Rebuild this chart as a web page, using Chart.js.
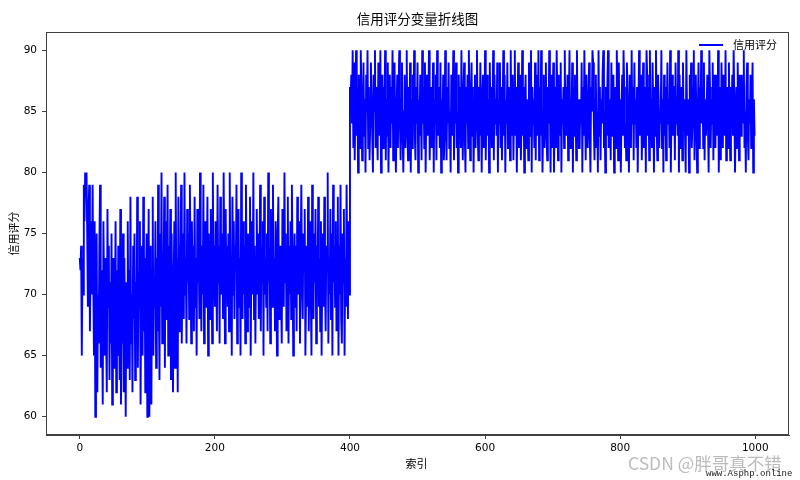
<!DOCTYPE html>
<html>
<head>
<meta charset="utf-8">
<script src="https://cdn.jsdelivr.net/npm/chart.js@4/dist/chart.umd.min.js"></script>
<style>
  html, body { margin: 0; padding: 0; background: #ffffff; }
  #c { display: block; }
</style>
</head>
<body>
<canvas id="c" width="800" height="480"></canvas>
<script>
// ---- data ----
const titleText = "信用评分变量折线图";
const xAxisLabel = "索引";
const yAxisLabel = "信用评分";
const seriesName = "信用评分";
const xTicks = [0, 200, 400, 600, 800, 1000];
const yTicks = [60, 65, 70, 75, 80, 85, 90];

const scoresLow = [
  73,72,74,65,73,70,79,76,80,78,80,75,69,77,79,67,72,76,70,79,
  71,65,76,60,68,75,62,70,66,74,79,64,72,68,61,76,70,65,73,67,
  62,77,69,74,63,71,66,75,61,70,73,64,68,76,62,72,65,74,69,63,
  77,61,70,66,75,62,73,68,60,71,64,76,67,72,63,78,66,70,62,74,
  68,75,63,71,66,78,64,72,69,76,61,70,74,65,78,67,73,62,71,75,
  60,68,77,60,66,74,61,72,78,65,71,69,76,64,73,67,79,70,63,75,
  69,80,66,73,71,78,64,76,68,72,79,65,74,70,77,63,75,68,62,71,
  76,64,80,69,73,62,78,67,74,71,79,66,72,75,68,80,70,73,66,77,
  71,75,68,79,72,66,76,70,74,67,78,69,73,65,77,71,75,68,80,72,
  67,74,70,79,66,73,76,69,72,78,65,75,71,68,77,73,66,80,70,74,
  69,76,72,67,79,71,74,66,78,70,73,75,68,80,72,66,77,70,74,69,
  75,67,80,71,73,65,78,70,76,68,74,72,79,66,71,77,69,73,65,80,
  72,68,76,70,74,66,79,71,67,75,73,69,78,65,72,76,70,80,68,74,
  66,73,77,70,75,68,72,79,67,74,71,76,65,78,70,73,69,75,67,80,
  71,74,66,77,72,69,79,70,73,67,76,71,65,75,78,68,72,74,70,66,
  77,73,69,80,71,75,67,72,78,66,74,70,76,68,79,73,65,71,75,69,
  74,67,78,72,70,76,66,73,79,71,68,75,72,77,65,70,74,69,78,67,
  72,76,70,65,79,73,68,75,71,77,66,74,70,78,69,73,67,76,65,72,
  75,69,78,71,67,74,72,80,66,73,70,77,68,75,65,79,71,74,69,76,
  67,72,78,65,74,70,79,68,66,75,71,77,65,73,69,79,72,68,76,70
];

const scoresHigh = [
  87,86,88,84,90,82,89,81,85,90,83,87,80,88,85,82,90,86,81,84,
  89,83,86,80,88,85,90,82,87,81,84,89,86,83,80,88,85,90,82,87,
  84,81,89,86,83,90,80,85,88,82,87,84,90,81,86,83,89,80,85,88,
  82,87,84,90,81,86,89,83,80,85,88,82,87,90,84,81,86,89,83,80,
  85,88,82,86,90,83,81,87,84,89,80,86,82,88,85,90,83,81,87,84,
  89,80,86,83,88,85,81,90,84,87,82,89,80,85,88,83,86,90,81,84,
  87,82,85,89,80,86,84,88,81,90,83,87,85,82,89,80,86,84,88,81,
  83,90,86,81,87,84,89,82,85,80,88,83,86,90,81,87,84,89,82,85,
  80,88,84,87,82,90,85,81,86,89,83,80,87,84,88,82,90,85,81,86,
  89,83,87,80,85,88,82,86,90,84,81,87,83,89,85,80,86,88,82,84,
  90,81,85,88,83,86,80,89,84,87,82,85,90,81,88,84,86,83,89,80,
  86,84,89,82,87,81,85,90,83,88,80,86,84,89,82,87,85,81,90,83,
  84,88,81,86,90,83,87,80,85,89,82,86,88,81,84,90,83,87,80,85,
  88,82,86,84,81,89,85,83,90,80,87,84,86,82,89,81,88,85,83,90,
  81,87,83,90,86,80,84,88,82,85,89,83,81,87,84,90,86,80,88,82,
  85,89,80,84,87,82,90,86,81,88,83,85,89,80,86,84,87,82,90,83,
  87,83,88,81,85,90,82,86,84,89,80,87,83,88,85,81,90,84,86,82,
  82,86,84,89,80,87,83,90,85,81,88,84,82,86,89,83,80,87,85,90,
  89,84,81,86,88,82,85,80,90,83,87,81,86,84,88,90,82,85,80,87,
  83,87,90,82,84,86,81,89,83,85,88,80,84,87,82,90,86,81,89,84,
  86,80,85,88,83,90,87,82,84,81,89,86,83,80,88,85,82,90,84,87,
  81,89,84,86,82,87,80,85,90,83,86,88,81,84,89,82,87,85,80,90,
  88,83,87,81,90,84,86,82,89,85,80,87,83,90,84,81,88,86,82,85,
  84,90,82,86,80,88,83,87,81,85,89,84,86,82,90,80,85,88,83,87,
  87,81,89,84,86,83,90,80,88,82,85,87,81,89,84,86,83,80,90,85,
  83,86,80,88,85,89,82,84,87,90,81,86,88,83,80,85,89,82,87,84,
  90,84,87,82,89,81,86,83,85,88,84,80,90,87,82,86,84,89,81,88,
  85,82,88,86,83,90,80,87,84,81,89,85,82,88,86,83,90,81,84,87,
  82,89,84,81,87,85,88,83,90,86,80,84,87,82,89,85,81,88,86,83,
  88,84,86,90,82,85,80,87,89,83,81,86,84,88,82,85,89,80,86,83
];

const scores = scoresLow.concat(scoresHigh);
const points = scores.map((v, i) => ({ x: i, y: v }));

// ---- layout constants ----
const AREA = { left: 46, top: 32, right: 789, bottom: 435 };
const CJK = '"Noto Sans CJK SC", "Noto Sans", sans-serif';
const TICKFONT = '"DejaVu Sans", "Noto Sans", sans-serif';
const AXISCOLOR = '#404040';

const overlay = {
  id: 'overlay',
  afterDraw(chart) {
    const ctx = chart.ctx;
    const ca = chart.chartArea;
    ctx.save();
    // spines
    ctx.strokeStyle = AXISCOLOR;
    ctx.lineWidth = 1;
    ctx.strokeRect(Math.round(ca.left) + 0.5, Math.round(ca.top) + 0.5,
                   Math.round(ca.right - ca.left) - 1, Math.round(ca.bottom - ca.top) - 1);
    // title
    ctx.fillStyle = '#000';
    ctx.font = '13.5px ' + CJK;
    ctx.textAlign = 'center';
    ctx.textBaseline = 'middle';
    ctx.fillText(titleText, (ca.left + ca.right) / 2, 19);
    // x label
    ctx.font = '11px ' + CJK;
    ctx.fillText(xAxisLabel, (ca.left + ca.right) / 2 - 1, 464);
    // y label
    ctx.save();
    ctx.translate(14, (ca.top + ca.bottom) / 2);
    ctx.rotate(-Math.PI / 2);
    ctx.fillText(yAxisLabel, 0, 0);
    ctx.restore();
    // legend
    ctx.strokeStyle = '#0000ff';
    ctx.lineWidth = 2;
    ctx.beginPath();
    ctx.moveTo(699, 45);
    ctx.lineTo(723, 45);
    ctx.stroke();
    ctx.fillStyle = '#000';
    ctx.textAlign = 'left';
    ctx.font = '11px ' + CJK;
    ctx.fillText(seriesName, 733, 45);
    // watermark
    ctx.fillStyle = 'rgba(160,160,160,0.7)';
    ctx.font = '17.5px ' + CJK;
    ctx.textAlign = 'left';
    ctx.fillText('CSDN @胖哥真不错', 628, 463);
    ctx.fillStyle = '#222';
    ctx.font = '9px "Liberation Mono", "DejaVu Sans Mono", monospace';
    ctx.fillText('www.Asphp.online', 706, 474);
    ctx.restore();
  }
};

new Chart(document.getElementById('c'), {
  type: 'line',
  data: {
    datasets: [{
      label: seriesName,
      data: points,
      borderColor: '#0000ff',
      backgroundColor: '#0000ff',
      borderWidth: 1.9,
      pointRadius: 0,
      pointHoverRadius: 0,
      tension: 0,
      fill: false
    }]
  },
  options: {
    responsive: false,
    devicePixelRatio: 1,
    animation: false,
    events: [],
    layout: { padding: { top: AREA.top, right: 800 - AREA.right, left: 0, bottom: 0 } },
    plugins: {
      legend: { display: false },
      title: { display: false },
      tooltip: { enabled: false }
    },
    scales: {
      x: {
        type: 'linear',
        min: -50,
        max: 1049.95,
        afterBuildTicks(scale) { scale.ticks = xTicks.map(v => ({ value: v })); },
        afterFit(scale) { scale.height = 480 - AREA.bottom; },
        grid: { display: true, drawOnChartArea: false, drawTicks: true, tickLength: 4, color: AXISCOLOR },
        border: { display: true, color: AXISCOLOR },
        ticks: {
          color: '#000',
          padding: 3,
          maxRotation: 0,
          autoSkip: false,
          font: { family: TICKFONT, size: 10.5 },
          callback: v => String(v)
        }
      },
      y: {
        type: 'linear',
        min: 58.5,
        max: 91.5,
        afterBuildTicks(scale) { scale.ticks = yTicks.map(v => ({ value: v })); },
        afterFit(scale) { scale.width = AREA.left; },
        grid: { display: true, drawOnChartArea: false, drawTicks: true, tickLength: 4, color: AXISCOLOR },
        border: { display: true, color: AXISCOLOR },
        ticks: {
          color: '#000',
          padding: 5,
          autoSkip: false,
          font: { family: TICKFONT, size: 10.5 },
          callback: v => String(v)
        }
      }
    }
  },
  plugins: [overlay]
});
</script>
</body>
</html>
